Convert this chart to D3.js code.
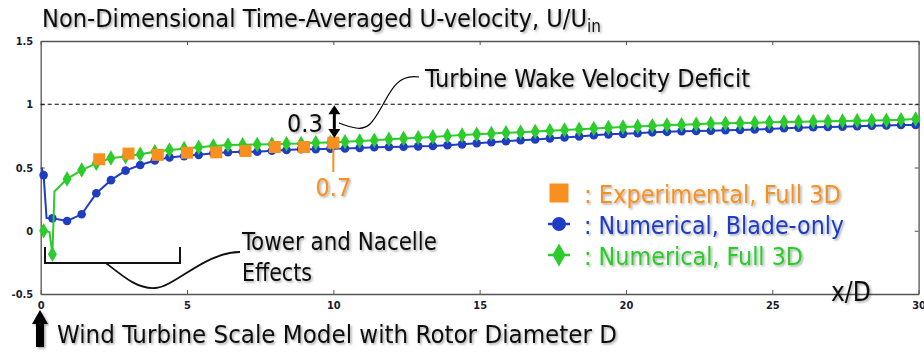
<!DOCTYPE html>
<html><head><meta charset="utf-8">
<script src="https://cdn.jsdelivr.net/npm/d3@7"></script>
<style>
body{margin:0;background:#fff;}
svg{display:block;}
text{font-family:"DejaVu Sans Condensed","DejaVu Sans",sans-serif;}
</style></head>
<body>
<svg id="c" width="924" height="353"></svg>
<script>
// ---- data ----
const xTicks = [0, 5, 10, 15, 20, 25, 30];
const yTicks = [-0.5, 0, 0.5, 1, 1.5];
const yTickLabels = ["-0.5", "0", "0.5", "1", "1.5"];

const expX = [2, 3, 4, 5, 6, 7, 8, 9, 10];
const expY = [0.565, 0.61, 0.60, 0.617, 0.62, 0.63, 0.662, 0.662, 0.696];

const bladeX = [0.03, 0.1, 0.2, 0.4, 0.9, 1.4, 1.9, 2.4, 2.9, 3.4, 3.9, 4.4, 4.9, 5.4, 5.9, 6.4, 6.9, 7.4, 7.9, 8.4, 8.9, 9.4, 9.9,
  10.4, 10.9, 11.4, 11.9, 12.4, 12.9, 13.4, 13.9, 14.4, 14.9, 15.4, 15.9, 16.4, 16.9, 17.4, 17.9, 18.4, 18.9, 19.4, 19.9,
  20.4, 20.9, 21.4, 21.9, 22.4, 22.9, 23.4, 23.9, 24.4, 24.9, 25.4, 25.9, 26.4, 26.9, 27.4, 27.9, 28.4, 28.9, 29.4, 29.9];
const bladeY = [0.5, 0.44, 0.1, 0.098, 0.077, 0.13, 0.296, 0.40, 0.475, 0.52, 0.555, 0.58, 0.59, 0.60, 0.612, 0.62, 0.625, 0.625, 0.633, 0.638, 0.644, 0.644, 0.648,
  0.65, 0.655, 0.66, 0.662, 0.664, 0.667, 0.67, 0.676, 0.683, 0.692, 0.70, 0.708, 0.715, 0.722, 0.73, 0.738, 0.746, 0.755, 0.762, 0.766,
  0.771, 0.778, 0.782, 0.786, 0.789, 0.791, 0.794, 0.797, 0.80, 0.805, 0.81, 0.815, 0.818, 0.82, 0.823, 0.826, 0.83, 0.833, 0.836, 0.836];
const bladeNoMarker = [0, 2];

const fullX = [0.1, 0.3, 0.4, 0.47, 0.9, 1.4, 1.9, 2.4, 2.9, 3.4, 3.9, 4.4, 4.9, 5.4, 5.9, 6.4, 6.9, 7.4, 7.9, 8.4, 8.9, 9.4, 9.9,
  10.4, 10.9, 11.4, 11.9, 12.4, 12.9, 13.4, 13.9, 14.4, 14.9, 15.4, 15.9, 16.4, 16.9, 17.4, 17.9, 18.4, 18.9, 19.4, 19.9,
  20.4, 20.9, 21.4, 21.9, 22.4, 22.9, 23.4, 23.9, 24.4, 24.9, 25.4, 25.9, 26.4, 26.9, 27.4, 27.9, 28.4, 28.9, 29.4, 29.9];
const fullY = [0.0, -0.01, -0.186, 0.31, 0.41, 0.48, 0.533, 0.575, 0.586, 0.604, 0.625, 0.638, 0.649, 0.66, 0.67, 0.678, 0.68, 0.682, 0.684, 0.688, 0.69, 0.695, 0.698,
  0.703, 0.709, 0.716, 0.723, 0.73, 0.736, 0.742, 0.75, 0.756, 0.762, 0.768, 0.774, 0.779, 0.785, 0.791, 0.797, 0.802, 0.808, 0.815, 0.82,
  0.825, 0.83, 0.835, 0.838, 0.842, 0.847, 0.849, 0.851, 0.854, 0.857, 0.859, 0.862, 0.864, 0.866, 0.868, 0.87, 0.872, 0.874, 0.877, 0.883];
const fullNoMarker = [1, 3];

const refLevel = 1;        // inlet velocity
const deficitAt = 10;      // x/D of the annotated deficit
const deficitValue = 0.7;
const legendLabels = [": Experimental, Full 3D", ": Numerical, Blade-only", ": Numerical, Full 3D"];

// ---- styles ----
const ORANGE = "#f7901e", BLUE = "#1f3dc1", GREEN = "#2bcc2b";

const svg = d3.select("#c");
const defs = svg.append("defs");
const f = defs.append("filter").attr("id", "sh").attr("x", "-5%").attr("y", "-20%").attr("width", "110%").attr("height", "140%");
f.append("feDropShadow").attr("dx", 1.5).attr("dy", 1.5).attr("stdDeviation", 0.8).attr("flood-color", "#000").attr("flood-opacity", 0.35);

const x = d3.scaleLinear().domain([0, 30]).range([40.7, 918.6]);
const y = d3.scaleLinear().domain([-0.5, 1.5]).range([294, 41]);

// frame / axes
const axisColor = "#555";
function styleAxis(g) {
  g.select(".domain").attr("stroke", axisColor).attr("stroke-width", 1.3);
  g.selectAll(".tick line").attr("stroke", axisColor).attr("stroke-width", 1);
  g.selectAll("text").attr("fill", "#1b1b2e").style("font-size", "11px").style("font-weight", "bold")
    .style("font-family", '"DejaVu Sans Condensed","DejaVu Sans",sans-serif');
}
svg.append("g").attr("transform", `translate(0,${y(-0.5)})`)
  .call(d3.axisBottom(x).tickValues(xTicks).tickSizeInner(-4).tickSizeOuter(0).tickPadding(7.5).tickFormat(d3.format("d")))
  .call(styleAxis);
svg.append("g").attr("transform", `translate(0,${y(1.5)})`)
  .call(d3.axisTop(x).tickValues(xTicks).tickSizeInner(-4).tickSizeOuter(0).tickFormat(""))
  .call(styleAxis);
svg.append("g").attr("transform", `translate(${x(0)},0)`)
  .call(d3.axisLeft(y).tickValues(yTicks).tickSizeInner(-4).tickSizeOuter(0).tickPadding(7.5)
    .tickFormat((d, i) => yTickLabels[i]))
  .call(styleAxis);
svg.append("g").attr("transform", `translate(${x(30)},0)`)
  .call(d3.axisRight(y).tickValues(yTicks).tickSizeInner(-4).tickSizeOuter(0).tickFormat(""))
  .call(styleAxis);

// reference dashed line
svg.append("line").attr("x1", x(0)).attr("x2", x(30)).attr("y1", y(refLevel)).attr("y2", y(refLevel))
  .attr("stroke", "#000").attr("stroke-width", 1.2).attr("stroke-dasharray", "4,3");

// series
const line = d3.line().x(d => x(d[0])).y(d => y(d[1]));
const blade = bladeX.map((v, i) => [v, bladeY[i]]);
const full = fullX.map((v, i) => [v, fullY[i]]);
const diamond = d3.symbol().type(d3.symbolDiamond).size(70);
const diamondL = d3.symbol().type(d3.symbolDiamond).size(150);

svg.append("path").datum(blade).attr("d", line).attr("fill", "none").attr("stroke", BLUE).attr("stroke-width", 2);
svg.append("g").selectAll("circle").data(blade.filter((d, i) => !bladeNoMarker.includes(i))).join("circle")
  .attr("cx", d => x(d[0])).attr("cy", d => y(d[1])).attr("r", 4.3).attr("fill", BLUE);

svg.append("path").datum(full).attr("d", line).attr("fill", "none").attr("stroke", GREEN).attr("stroke-width", 2);
svg.append("g").selectAll("path").data(full.filter((d, i) => !fullNoMarker.includes(i))).join("path")
  .attr("d", diamond).attr("transform", d => `translate(${x(d[0])},${y(d[1])})`).attr("fill", GREEN);

svg.append("g").selectAll("rect").data(expX.map((v, i) => [v, expY[i]])).join("rect")
  .attr("x", d => x(d[0]) - 6).attr("y", d => y(d[1]) - 6).attr("width", 12).attr("height", 12).attr("fill", ORANGE);

// title
const title = svg.append("text").attr("x", 42).attr("y", 27).attr("fill", "#111").style("font-size", "25px").attr("filter", "url(#sh)");
title.append("tspan").attr("textLength", 545).attr("lengthAdjust", "spacingAndGlyphs").text("Non-Dimensional Time-Averaged U-velocity, U/U");
title.append("tspan").attr("dy", 5).style("font-size", "17px").text("in");

// deficit annotation
const ax = x(deficitAt) + 1;
svg.append("line").attr("x1", ax).attr("x2", ax).attr("y1", y(refLevel) + 8).attr("y2", 130)
  .attr("stroke", "#000").attr("stroke-width", 3);
svg.append("path").attr("d", `M${ax},${y(refLevel) + 1}l-6,9h12z`).attr("fill", "#000");
svg.append("path").attr("d", `M${ax},138 l-6,-9h12z`).attr("fill", "#000");
svg.append("text").attr("x", 287).attr("y", 132).style("font-size", "25px").attr("fill", "#111").attr("filter", "url(#sh)")
  .text((refLevel - deficitValue).toFixed(1));
svg.append("path").attr("d", "M419,77 C396,73 389,95 381,108 C373,122 368,130 356,128 C349,127 344,125 339,123")
  .attr("fill", "none").attr("stroke", "#000").attr("stroke-width", 1.2);
svg.append("text").attr("x", 425).attr("y", 87).style("font-size", "25px").attr("fill", "#111").attr("filter", "url(#sh)")
  .attr("textLength", 325).attr("lengthAdjust", "spacingAndGlyphs").text("Turbine Wake Velocity Deficit");

svg.append("line").attr("x1", x(deficitAt)).attr("x2", x(deficitAt)).attr("y1", y(deficitValue) + 5).attr("y2", 172)
  .attr("stroke", ORANGE).attr("stroke-width", 2);
svg.append("text").attr("x", x(deficitAt)).attr("y", 196).attr("text-anchor", "middle").style("font-size", "25px")
  .attr("fill", ORANGE).attr("filter", "url(#sh)").text(deficitValue.toFixed(1));

// tower bracket
svg.append("path").attr("d", "M45,247 V263 H180 V247").attr("fill", "none").attr("stroke", "#111").attr("stroke-width", 2);
svg.append("path").attr("d", "M106,263 C125,278 138,289 155,288 C175,287 205,252 240,252")
  .attr("fill", "none").attr("stroke", "#111").attr("stroke-width", 1.8);
svg.append("text").attr("x", 242).attr("y", 250).style("font-size", "24px").attr("fill", "#111").attr("filter", "url(#sh)")
  .attr("textLength", 195).attr("lengthAdjust", "spacingAndGlyphs").text("Tower and Nacelle");
svg.append("text").attr("x", 242).attr("y", 281).style("font-size", "24px").attr("fill", "#111").attr("filter", "url(#sh)")
  .attr("textLength", 70).attr("lengthAdjust", "spacingAndGlyphs").text("Effects");

// legend
const lg = svg.append("g");
const lx = 559, rows = [193, 224, 255];
const legendWidths = [257, 260, 219];
lg.append("rect").attr("x", lx - 9.5).attr("y", rows[0] - 9.5).attr("width", 19).attr("height", 19).attr("fill", ORANGE);
lg.append("line").attr("x1", lx - 11).attr("x2", lx + 11).attr("y1", rows[1]).attr("y2", rows[1]).attr("stroke", BLUE).attr("stroke-width", 2.5);
lg.append("circle").attr("cx", lx).attr("cy", rows[1]).attr("r", 7).attr("fill", BLUE);
lg.append("line").attr("x1", lx - 11).attr("x2", lx + 11).attr("y1", rows[2]).attr("y2", rows[2]).attr("stroke", GREEN).attr("stroke-width", 2.5);
lg.append("path").attr("d", diamondL).attr("transform", `translate(${lx},${rows[2]})`).attr("fill", GREEN);
const lcol = [ORANGE, BLUE, GREEN];
legendLabels.forEach((t, i) => {
  lg.append("text").attr("x", 584).attr("y", rows[i] + 10).style("font-size", "25px").attr("fill", lcol[i])
    .attr("filter", "url(#sh)").attr("textLength", legendWidths[i]).attr("lengthAdjust", "spacingAndGlyphs").text(t);
});

// x label
svg.append("text").attr("x", 831).attr("y", 301).style("font-size", "26px").attr("fill", "#111").attr("filter", "url(#sh)").text("x/D");

// bottom note with arrow
svg.append("path").attr("d", "M40,310 L48,324 H44 V347 H36 V324 H32 Z").attr("fill", "#000").attr("filter", "url(#sh)");
svg.append("text").attr("x", 57).attr("y", 343).style("font-size", "25px").attr("fill", "#111").attr("filter", "url(#sh)")
  .attr("textLength", 560).attr("lengthAdjust", "spacingAndGlyphs").text("Wind Turbine Scale Model with Rotor Diameter D");
</script>
</body></html>
